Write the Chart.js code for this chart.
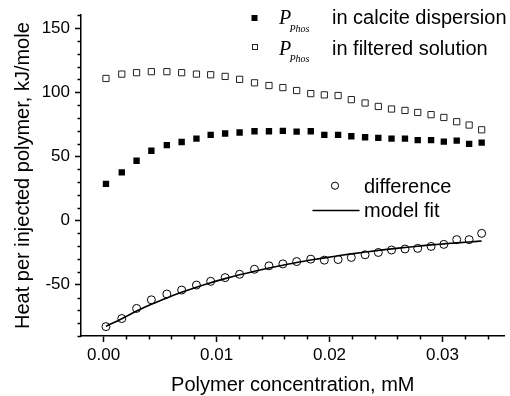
<!DOCTYPE html>
<html><head><meta charset="utf-8">
<script src="https://cdn.jsdelivr.net/npm/chart.js@4.4.1/dist/chart.umd.min.js"></script>
<style>html,body{margin:0;padding:0;background:#fff;} #wrap{width:510px;height:396px;}</style>
</head><body><div id="wrap"><canvas id="c" width="510" height="396"></canvas></div>
<script>
const concentration = [0.00021,0.00161,0.00292,0.00423,0.00560,0.00691,0.00822,0.00948,0.01076,0.01204,0.01336,0.01464,0.01587,0.01709,0.01834,0.01954,0.02076,0.02193,0.02315,0.02432,0.02549,0.02668,0.02781,0.02899,0.03012,0.03126,0.03236,0.03347];
const heatCalcite = [28.5,37.5,46.6,54.4,58.7,61.2,63.8,66.7,67.8,68.6,69.6,69.6,69.9,69.3,69.6,66.7,66.7,65.7,64.9,64.4,63.8,63.8,62.6,62.6,61.5,62.3,59.7,60.7];
const heatFiltered = [110.7,114.1,115.2,116.0,116.0,115.2,114.1,113.6,112.3,110.0,107.3,105.2,103.6,101.3,98.9,97.9,97.4,94.2,91.6,88.9,86.9,85.8,84.2,82.5,80.3,77.0,74.4,70.7];
const heatDifference = [-82.7,-76.4,-68.5,-61.8,-57.3,-54.2,-50.3,-47.4,-44.5,-41.9,-38.0,-35.3,-33.8,-32.0,-30.1,-30.9,-30.4,-28.8,-26.7,-24.9,-23.0,-22.2,-21.7,-20.2,-18.6,-14.9,-14.9,-10.0];
const modelFit = [-82.5,-76.5,-70.5,-65.2,-60.3,-56.0,-52.0,-48.5,-45.3,-42.3,-39.5,-37.0,-34.8,-32.7,-30.8,-29.1,-27.5,-26.0,-24.6,-23.3,-22.1,-21.0,-20.0,-19.0,-18.2,-17.4,-16.7,-16.0];
const xTickValues = [0, 0.01, 0.02, 0.03];
const yTickValues = [-50, 0, 50, 100, 150];
const xTitle = 'Polymer concentration, mM';
const yTitle = 'Heat per injected polymer, kJ/mole';
const legendTop = ['in calcite dispersion', 'in filtered solution'];
const legendBottom = ['difference', 'model fit'];

const pts = (ys) => concentration.map((x, i) => ({x, y: ys[i]}));
const SANS = '"Liberation Sans", Arial, sans-serif';
const SERIF = '"Liberation Serif", "Times New Roman", serif';

const extras = {
  id: 'extras',
  afterDraw(chart) {
    const {ctx, scales: {x, y}, chartArea: ca} = chart;
    ctx.save();
    ctx.strokeStyle = '#000';
    ctx.lineWidth = 1.5;
    // minor ticks
    ctx.beginPath();
    for (let v = -90; v <= 160; v += 10) {
      if (v % 50 === 0) continue;
      const py = Math.round(y.getPixelForValue(v)) + 0.5;
      ctx.moveTo(ca.left - 3.5, py); ctx.lineTo(ca.left, py);
    }
    for (let i = 0; i <= 17; i++) {
      if (i % 5 === 0) continue;
      const px = Math.round(x.getPixelForValue(i * 0.002)) + 0.5;
      ctx.moveTo(px, ca.bottom); ctx.lineTo(px, ca.bottom + 3.5);
    }
    ctx.stroke();

    // top legend
    ctx.fillStyle = '#000';
    ctx.fillRect(251.5, 15, 6, 6);
    ctx.lineWidth = 1;
    ctx.strokeStyle = '#222';
    ctx.strokeRect(252.5, 44.5, 5, 5);
    const rows = [24.3, 54.5];
    rows.forEach((b, i) => {
      ctx.fillStyle = '#000';
      ctx.textBaseline = 'alphabetic';
      ctx.textAlign = 'left';
      ctx.font = 'italic 20px ' + SERIF;
      ctx.fillText('P', 279, b);
      ctx.font = 'italic 10px ' + SERIF;
      ctx.fillText('Phos', 289.5, b + 7.5);
      ctx.font = '20px ' + SANS;
      ctx.fillText(legendTop[i], 332, b);
    });

    // bottom legend
    ctx.strokeStyle = '#000';
    ctx.lineWidth = 1;
    ctx.beginPath();
    ctx.arc(335, 185.7, 3.6, 0, Math.PI * 2);
    ctx.stroke();
    ctx.lineWidth = 1.6;
    ctx.beginPath();
    ctx.moveTo(312.5, 210.5); ctx.lineTo(359.5, 210.5);
    ctx.stroke();
    ctx.font = '20px ' + SANS;
    ctx.fillText(legendBottom[0], 364, 193);
    ctx.fillText(legendBottom[1], 364, 217);
    ctx.restore();
  }
};

new Chart(document.getElementById('c'), {
  type: 'scatter',
  data: {
    datasets: [
      {label: 'P_Phos in calcite dispersion', data: pts(heatCalcite), pointStyle: 'rect', pointRadius: 4.5, backgroundColor: '#000', borderColor: '#000', borderWidth: 0},
      {label: 'P_Phos in filtered solution', data: pts(heatFiltered), pointStyle: 'rect', pointRadius: 4.4, backgroundColor: 'rgba(0,0,0,0)', borderColor: '#222', borderWidth: 1},
      {label: 'difference', data: pts(heatDifference), pointStyle: 'circle', pointRadius: 4, backgroundColor: 'rgba(0,0,0,0)', borderColor: '#000', borderWidth: 1},
      {label: 'model fit', data: pts(modelFit), showLine: true, pointRadius: 0, borderColor: '#000', borderWidth: 1.6, cubicInterpolationMode: 'monotone', fill: false}
    ]
  },
  options: {
    responsive: false,
    animation: false,
    devicePixelRatio: 1,
    layout: {padding: {top: 15, right: 0, left: 0, bottom: 0}},
    plugins: {legend: {display: false}, tooltip: {enabled: false}},
    scales: {
      x: {
        type: 'linear', min: -0.002, max: 0.0355,
        afterBuildTicks: (s) => { s.ticks = xTickValues.map(v => ({value: v})); },
        afterFit: (s) => { s.height = 60; },
        ticks: {color: '#000', padding: 3, font: {family: SANS, size: 17}, callback: (v) => Number(v).toFixed(2), maxRotation: 0, autoSkip: false},
        grid: {drawOnChartArea: false, drawTicks: true, tickLength: 6, tickColor: '#000', tickWidth: 1.5},
        border: {display: true, color: '#000', width: 1.5},
        title: {display: true, text: xTitle, color: '#000', font: {family: SANS, size: 20}, padding: {top: 0, bottom: -1}}
      },
      y: {
        type: 'linear', min: -90, max: 160,
        afterBuildTicks: (s) => { s.ticks = yTickValues.map(v => ({value: v})); },
        afterFit: (s) => { s.width = 81; },
        ticks: {color: '#000', padding: 5, font: {family: SANS, size: 17}, autoSkip: false},
        grid: {drawOnChartArea: false, drawTicks: true, tickLength: 6, tickColor: '#000', tickWidth: 1.5},
        border: {display: true, color: '#000', width: 1.5},
        title: {display: true, text: yTitle, color: '#000', font: {family: SANS, size: 20}, padding: {top: 11, bottom: 0}}
      }
    }
  },
  plugins: [extras]
});
</script>
</body></html>
